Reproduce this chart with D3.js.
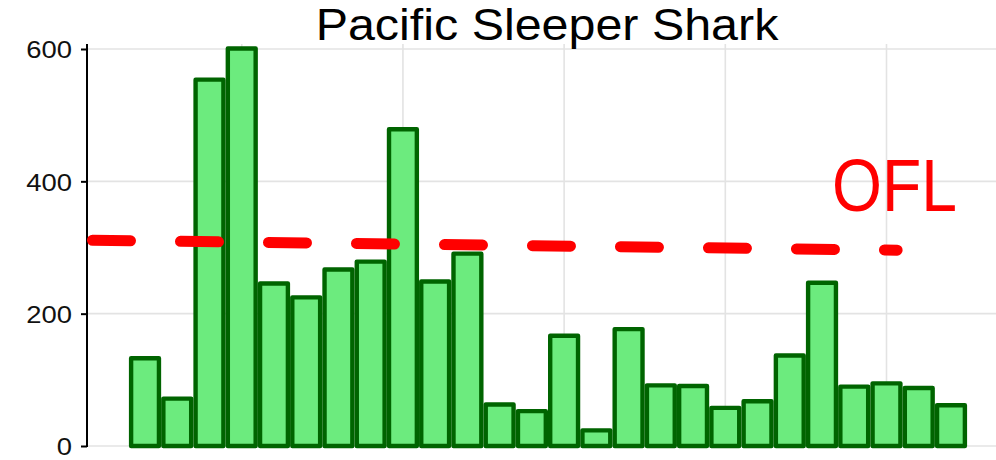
<!DOCTYPE html>
<html>
<head>
<meta charset="utf-8">
<script src="https://cdn.jsdelivr.net/npm/d3@7"></script>
<style>
  html, body { margin: 0; padding: 0; background: #fff; }
  svg { display: block; }
</style>
</head>
<body>
<svg id="chart" width="996" height="460"></svg>
<script>
// ---- data ----
const years = [1997, 1998, 1999, 2000, 2001, 2002, 2003, 2004, 2005, 2006, 2007, 2008, 2009,
               2010, 2011, 2012, 2013, 2014, 2015, 2016, 2017, 2018, 2019, 2020, 2021, 2022];
const catchValues = [136, 75, 557, 604, 249, 228, 270, 282, 482, 252, 294, 66, 56,
                     170, 27, 180, 95, 94, 61, 71, 140, 250, 93, 98, 91, 65];
const oflYears = [1995.2, 2020.33];
const oflValues = [311, 296];
const yTicks = [0, 200, 400, 600];
const xGridYears = [2000, 2005, 2010, 2015, 2020];
const titleText = "Pacific Sleeper Shark";
const oflLabel = "OFL";

// ---- layout ----
const W = 996, H = 460;
const panel = { left: 87, top: 44 };
const svg = d3.select("#chart");

const x = d3.scaleLinear().domain([1995.2, 2023.8]).range([87, 1009]);
const y = d3.scaleLinear().domain([0, 600]).range([446, 49]);

const gridColor = "#e3e3e3";

// horizontal gridlines
svg.append("g").selectAll("line").data(yTicks).join("line")
  .attr("x1", panel.left).attr("x2", W)
  .attr("y1", d => y(d)).attr("y2", d => y(d))
  .attr("stroke", gridColor).attr("stroke-width", 1.6);

// vertical gridlines
svg.append("g").selectAll("line").data(xGridYears).join("line")
  .attr("x1", d => x(d)).attr("x2", d => x(d))
  .attr("y1", panel.top).attr("y2", y(0))
  .attr("stroke", gridColor).attr("stroke-width", 1.6);

// bars
const sw = 4.4;
svg.append("g").selectAll("rect").data(years).join("rect")
  .attr("x", d => x(d - 0.5) + sw / 2)
  .attr("width", d => x(d + 0.5) - x(d - 0.5) - sw)
  .attr("y", (d, i) => y(catchValues[i]) + sw / 2)
  .attr("height", (d, i) => y(0) - y(catchValues[i]) - sw / 2)
  .attr("fill", "#6ceb7e")
  .attr("stroke", "#006400")
  .attr("stroke-width", sw)
  .attr("stroke-linejoin", "round");

// y axis
const yAxis = d3.axisLeft(y).tickValues(yTicks).tickSize(6).tickPadding(9);
const gy = svg.append("g").attr("transform", `translate(${panel.left},0)`).call(yAxis);
gy.select(".domain").remove();
gy.selectAll(".tick line").attr("stroke", "#000").attr("stroke-width", 2);
gy.selectAll(".tick text")
  .attr("font-family", "Liberation Sans, Arial, sans-serif")
  .attr("font-size", 24.5)
  .attr("fill", "#111")
  .attr("dy", "0.36em")
  .each(function() {
    const t = d3.select(this);
    const xx = +t.attr("x");
    t.attr("x", null).attr("transform", `translate(${xx},0) scale(1.12,1)`);
  });
svg.append("line")
  .attr("x1", panel.left).attr("x2", panel.left)
  .attr("y1", panel.top).attr("y2", y(0) + 1)
  .attr("stroke", "#000").attr("stroke-width", 2);

// OFL dashed line
const oflData = oflYears.map((yr, i) => ({ yr, v: oflValues[i] }));
svg.append("path")
  .datum(oflData)
  .attr("d", d3.line().x(d => x(d.yr)).y(d => y(d.v)))
  .attr("fill", "none")
  .attr("stroke", "#ff0000")
  .attr("stroke-width", 11)
  .attr("stroke-linecap", "round")
  .attr("stroke-dasharray", "38,50")
  .attr("stroke-dashoffset", -5.5);

// OFL label
svg.append("text")
  .attr("x", 832).attr("y", 211)
  .attr("font-family", "Liberation Sans, Arial, sans-serif")
  .attr("font-size", 75)
  .attr("fill", "#ff0000")
  .attr("textLength", 125)
  .attr("lengthAdjust", "spacingAndGlyphs")
  .text(oflLabel);

// title
svg.append("text")
  .attr("transform", "translate(547,40) scale(1.1,1)")
  .attr("text-anchor", "middle")
  .attr("font-family", "Liberation Sans, Arial, sans-serif")
  .attr("font-size", 44)
  .attr("fill", "#000")
  .text(titleText);
</script>
</body>
</html>
